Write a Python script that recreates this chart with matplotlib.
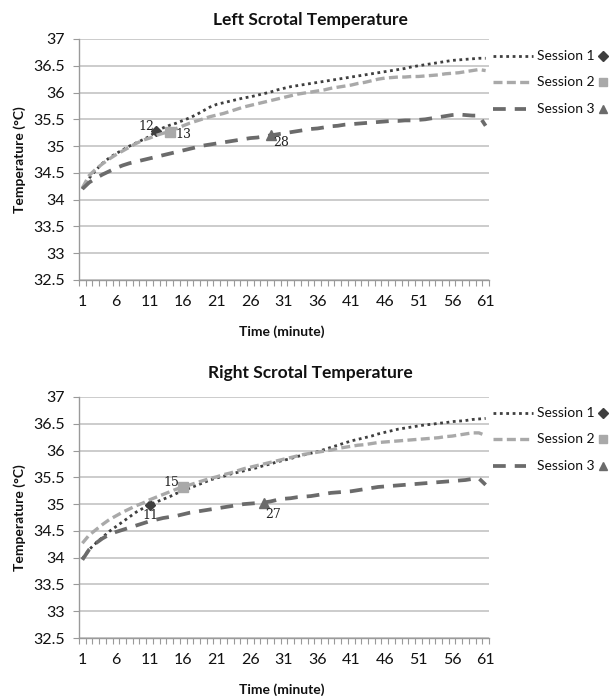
import matplotlib
matplotlib.use("Agg")
import matplotlib.pyplot as plt
from matplotlib.lines import Line2D
import numpy as np

plt.rcParams['font.family'] = ['Lato', 'DejaVu Sans']

time = list(range(1, 62))
x_tick_labels = [str(t) for t in range(1, 62, 5)]
y_ticks = [32.5, 33, 33.5, 34, 34.5, 35, 35.5, 36, 36.5, 37]
series_names = ["Session 1", "Session 2", "Session 3"]

left_s1 = [34.20, 34.40, 34.55, 34.68, 34.78, 34.86, 34.93, 35.00, 35.06, 35.12,
           35.18, 35.28, 35.34, 35.39, 35.43, 35.48, 35.53, 35.59, 35.66, 35.73,
           35.78, 35.81, 35.84, 35.87, 35.90, 35.92, 35.95, 35.98, 36.01, 36.05,
           36.08, 36.11, 36.13, 36.15, 36.17, 36.19, 36.21, 36.23, 36.25, 36.27,
           36.29, 36.31, 36.33, 36.35, 36.37, 36.39, 36.41, 36.43, 36.45, 36.48,
           36.50, 36.52, 36.54, 36.56, 36.58, 36.60, 36.61, 36.62, 36.63, 36.64,
           36.64]
left_s2 = [34.22, 34.45, 34.57, 34.67, 34.76, 34.84, 34.91, 34.98, 35.05, 35.11,
           35.15, 35.20, 35.24, 35.27, 35.33, 35.38, 35.43, 35.47, 35.51, 35.55,
           35.58, 35.61, 35.65, 35.69, 35.73, 35.76, 35.79, 35.82, 35.85, 35.88,
           35.91, 35.94, 35.97, 35.99, 36.01, 36.03, 36.05, 36.08, 36.10, 36.12,
           36.14, 36.17, 36.19, 36.22, 36.25, 36.27, 36.28, 36.29, 36.29, 36.30,
           36.30, 36.31, 36.32, 36.33, 36.35, 36.36, 36.37, 36.39, 36.41, 36.43,
           36.41]
left_s3 = [34.20, 34.32, 34.40, 34.47, 34.53, 34.59, 34.64, 34.68, 34.71, 34.74,
           34.77, 34.80, 34.83, 34.86, 34.89, 34.92, 34.95, 34.98, 35.01, 35.03,
           35.05, 35.07, 35.09, 35.11, 35.13, 35.15, 35.16, 35.18, 35.20, 35.22,
           35.24, 35.26, 35.28, 35.30, 35.32, 35.33, 35.35, 35.37, 35.38, 35.40,
           35.41, 35.42, 35.43, 35.44, 35.45, 35.46, 35.47, 35.47, 35.48, 35.48,
           35.49, 35.50, 35.52, 35.54, 35.56, 35.58, 35.59, 35.58, 35.57, 35.57,
           35.38]

right_s1 = [33.98, 34.15, 34.27, 34.38, 34.49, 34.58, 34.67, 34.76, 34.85, 34.92,
            34.99, 35.04, 35.09, 35.14, 35.20, 35.25, 35.30, 35.35, 35.40, 35.45,
            35.49, 35.52, 35.56, 35.59, 35.62, 35.65, 35.68, 35.72, 35.75, 35.79,
            35.82, 35.85, 35.89, 35.92, 35.95, 35.98, 36.02, 36.06, 36.10, 36.14,
            36.18, 36.21, 36.24, 36.27, 36.31, 36.34, 36.37, 36.40, 36.42, 36.44,
            36.46, 36.48, 36.49, 36.51, 36.52, 36.54, 36.55, 36.56, 36.58, 36.59,
            36.60]
right_s2 = [34.27, 34.42, 34.52, 34.62, 34.71, 34.78, 34.85, 34.91, 34.97, 35.02,
            35.08, 35.13, 35.18, 35.23, 35.28, 35.32, 35.36, 35.40, 35.44, 35.48,
            35.51, 35.55, 35.58, 35.62, 35.66, 35.69, 35.72, 35.75, 35.78, 35.81,
            35.84, 35.87, 35.90, 35.93, 35.95, 35.97, 35.99, 36.01, 36.04, 36.06,
            36.08, 36.10, 36.11, 36.13, 36.15, 36.16, 36.17, 36.18, 36.19, 36.20,
            36.21, 36.22, 36.23, 36.24, 36.26, 36.27, 36.29, 36.31, 36.33, 36.33,
            36.28]
right_s3 = [33.96, 34.15, 34.27, 34.36, 34.43, 34.48, 34.52, 34.56, 34.60, 34.64,
            34.68, 34.71, 34.74, 34.76, 34.78, 34.81, 34.84, 34.86, 34.88, 34.90,
            34.92, 34.94, 34.96, 34.98, 35.00, 35.01, 35.02, 35.03, 35.05, 35.08,
            35.10, 35.11, 35.13, 35.14, 35.15, 35.17, 35.19, 35.21, 35.22, 35.23,
            35.24, 35.26, 35.28, 35.30, 35.32, 35.33, 35.34, 35.35, 35.36, 35.37,
            35.38, 35.39, 35.40, 35.41, 35.42, 35.43, 35.44, 35.45, 35.47, 35.48,
            35.36]

# highlighted points (time of marker) and their labels
left_marker_t = [12, 14, 29]
left_marker_labels = ["12", "13", "28"]
right_marker_t = [11, 16, 28]
right_marker_labels = ["11", "15", "27"]

titles = ["Left Scrotal Temperature", "Right Scrotal Temperature"]

# styles
colors = ["#3f3f3f", "#a9a9a9", "#6b6b6b"]
widths = [2.0, 2.4, 2.7]
dashes = [(0, (1.0, 1.3)), (0, (2.7, 1.3)), (0, (3.4, 2.4))]
markers = ["D", "s", "^"]
marker_sizes = [5.5, 7, 7]

W, H = 610, 696
fig = plt.figure(figsize=(W / 100, H / 100), dpi=100)


def fx(px):
    return px / W


def fy(py):
    return 1 - py / H


panels = [
    dict(data=[left_s1, left_s2, left_s3], mt=left_marker_t, ml=left_marker_labels,
         top=39, bottom=280, title_y=20, xlabel_y=332, leg_y=[56, 82, 109],
         offsets=[(-10, 5), (14, -3), (11, -7)]),
    dict(data=[right_s1, right_s2, right_s3], mt=right_marker_t, ml=right_marker_labels,
         top=397, bottom=638, title_y=373, xlabel_y=690, leg_y=[413, 439, 466],
         offsets=[(1, -11), (-12, 4), (9, -12)]),
]

ax_left, ax_right = 79, 489

for p, title in zip(panels, titles):
    ax = fig.add_axes([fx(ax_left), fy(p['bottom']), fx(ax_right - ax_left),
                       (p['bottom'] - p['top']) / H])
    ax.set_xlim(0.5, 61.5)
    ax.set_ylim(32.5, 37)
    ax.set_yticks(y_ticks)
    ax.set_yticklabels([("%g" % v) for v in y_ticks], fontsize=11.5, color="#111111")
    ax.yaxis.grid(True, color="#c4c4c4", linewidth=1.2)
    ax.set_axisbelow(True)
    ax.set_xticks(list(range(1, 62, 5)))
    ax.set_xticklabels(x_tick_labels, fontsize=11.5, color="#111111")
    ax.set_xticks(np.arange(0.5, 62, 1.0), minor=True)
    ax.tick_params(axis='x', which='major', length=0, pad=11)
    ax.tick_params(axis='x', which='minor', length=4, color="#9a9a9a", width=0.8)
    ax.tick_params(axis='y', which='major', length=4, color="#9a9a9a", width=0.8, pad=6)
    for s in ['top', 'right']:
        ax.spines[s].set_visible(False)
    for s in ['left', 'bottom']:
        ax.spines[s].set_color("#9a9a9a")
        ax.spines[s].set_linewidth(1.0)

    for vals, c, lw, ls, mk, ms, mt, lab, off in zip(
            p['data'], colors, widths, dashes, markers, marker_sizes,
            p['mt'], p['ml'], p['offsets']):
        ax.plot(time, vals, color=c, linewidth=lw, linestyle=ls,
                dash_capstyle='butt')
        yv = vals[time.index(mt)]
        ax.plot([mt], [yv], marker=mk, color=c, markersize=ms, linestyle='none')
        ax.annotate(lab, (mt, yv), xytext=(off[0] * 0.72, off[1] * 0.72),
                    textcoords='offset points', ha='center', va='center',
                    fontsize=9, family=['DejaVu Serif'], color="#222222")

    fig.text(fx(310), fy(p['title_y']), title, ha='center', va='center',
             fontsize=12.5, fontweight='bold', color="#111111")
    fig.text(fx(282), fy(p['xlabel_y']), "Time (minute)", ha='center', va='center',
             fontsize=10, fontweight='bold', color="#111111")
    fig.text(fx(20), fy((p['top'] + p['bottom']) / 2), "Temperature (°C)",
             rotation=90, ha='center', va='center', fontsize=10,
             fontweight='bold', color="#111111")

    # legend
    for name, c, lw, ls, mk, ms, ly in zip(series_names, colors, widths, dashes,
                                           markers, marker_sizes, p['leg_y']):
        x0, x1 = (493, 533) if name != "Session 3" else (493, 526)
        fig.add_artist(Line2D([fx(x0), fx(x1)], [fy(ly), fy(ly)], color=c,
                              linewidth=lw, linestyle=ls, dash_capstyle='butt'))
        fig.text(fx(537), fy(ly), name, ha='left', va='center', fontsize=10,
                 color="#111111")
        fig.add_artist(Line2D([fx(603)], [fy(ly)], marker=mk, color=c,
                              markersize=ms * 0.9, linestyle='none'))

fig.savefig("out.png", dpi=100)
